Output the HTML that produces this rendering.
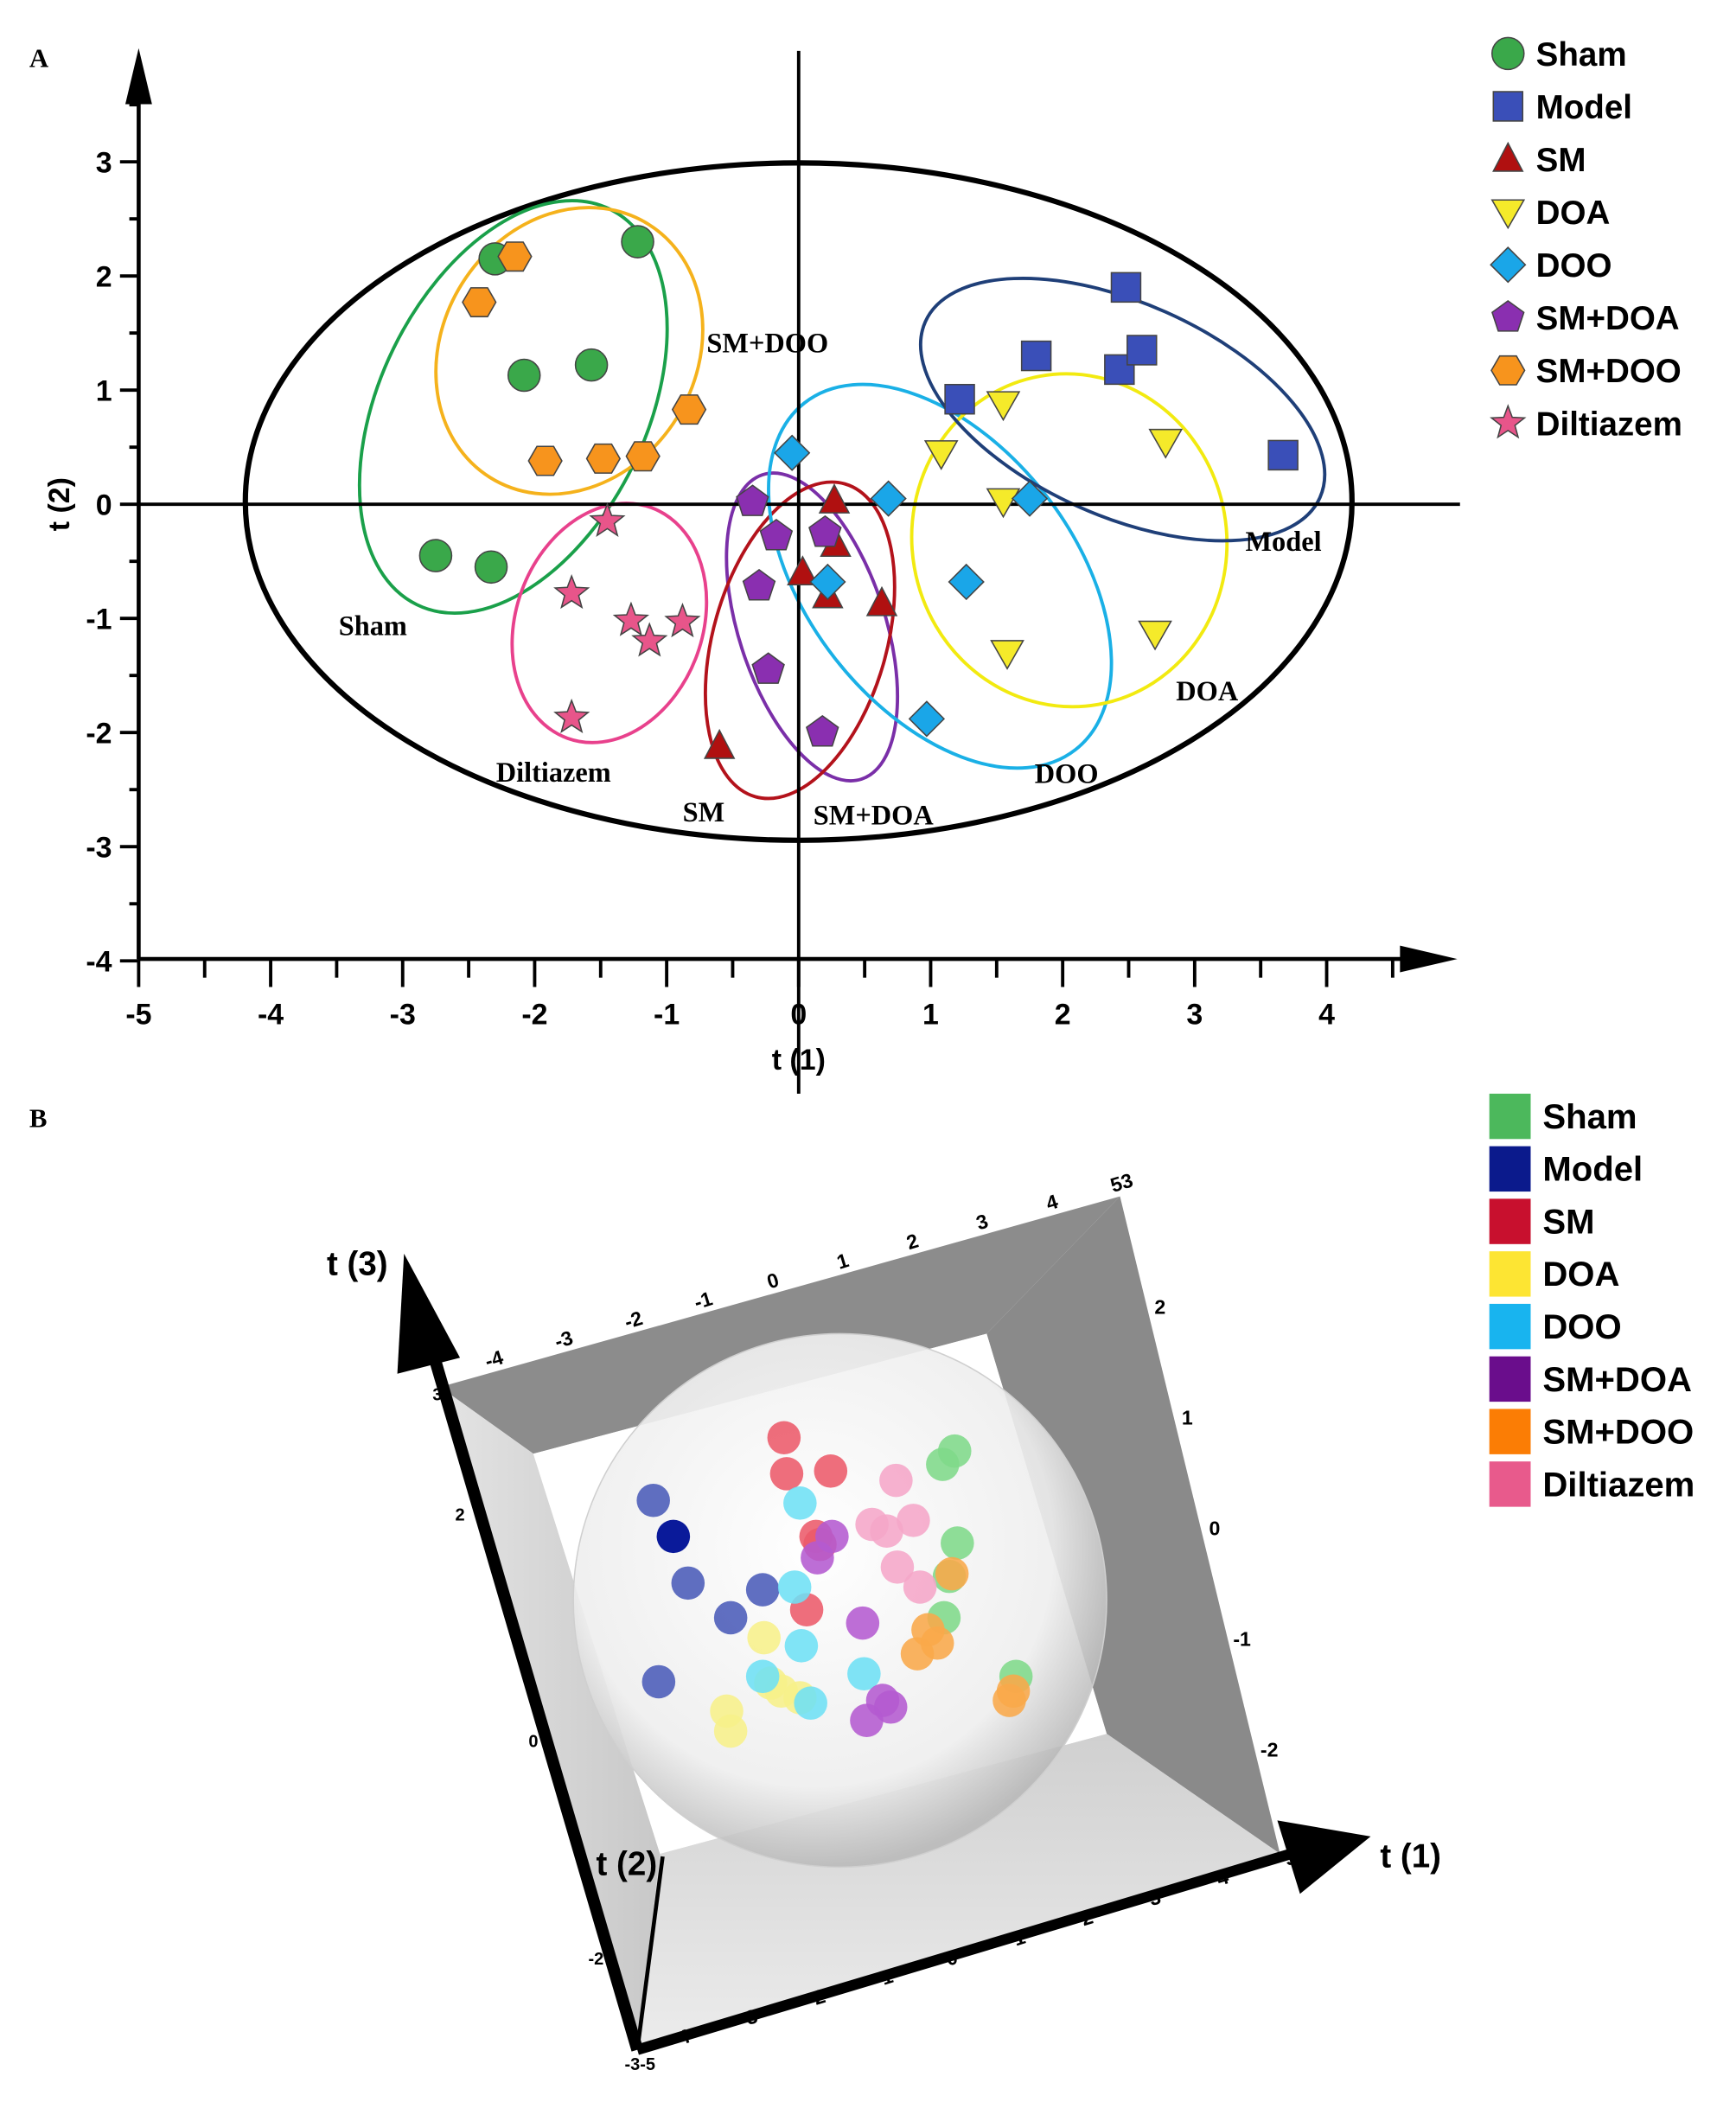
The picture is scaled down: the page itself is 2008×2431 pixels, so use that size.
<!DOCTYPE html>
<html><head><meta charset="utf-8"><style>
html,body{margin:0;padding:0;background:#fff;}
svg{display:block;}
text{font-family:"Liberation Sans",sans-serif;}
.serif{font-family:"Liberation Serif",serif;font-weight:bold;}
</style></head><body>
<svg id="chart" width="2008" height="2431" viewBox="0 0 1302 1576" xmlns="http://www.w3.org/2000/svg">
<defs>
<radialGradient id="sph" cx="0.45" cy="0.4" r="0.6">
<stop offset="0" stop-color="#ffffff" stop-opacity="0.95"/>
<stop offset="0.75" stop-color="#eeeeee" stop-opacity="0.9"/>
<stop offset="1" stop-color="#b8b8b8" stop-opacity="0.85"/>
</radialGradient>
<linearGradient id="lw" x1="0" y1="0" x2="1" y2="0"><stop offset="0" stop-color="#e4e4e4"/><stop offset="1" stop-color="#c8c8c8"/></linearGradient>
<linearGradient id="fl" x1="0" y1="0" x2="0" y2="1"><stop offset="0" stop-color="#d0d0d0"/><stop offset="1" stop-color="#ececec"/></linearGradient>
</defs>
<text class="serif" x="22" y="50" font-size="20">A</text>
<text class="serif" x="22" y="845" font-size="20">B</text>
<g id="pa"></g>
<g id="pb"></g>
</svg>
<script>
const groups = ["Sham","Model","SM","DOA","DOO","SM+DOA","SM+DOO","Diltiazem"];
const shamT1 = [-2.3,-1.22,-2.08,-1.57,-2.75,-2.33];
const shamT2 = [2.15,2.3,1.13,1.22,-0.45,-0.55];
const modelT1 = [2.48,1.8,2.43,2.6,1.22,3.67];
const modelT2 = [1.9,1.3,1.18,1.35,0.92,0.43];
const smT1 = [0.27,0.28,0.03,0.22,0.63,-0.6];
const smT2 = [0.03,-0.35,-0.6,-0.8,-0.87,-2.12];
const doaT1 = [1.55,1.08,2.78,1.55,1.58,2.7];
const doaT2 = [0.88,0.45,0.55,0.03,-1.3,-1.13];
const dooT1 = [-0.05,0.68,1.75,0.22,1.27,0.97];
const dooT2 = [0.45,0.05,0.05,-0.68,-0.68,-1.88];
const smdoaT1 = [-0.35,-0.17,0.2,-0.3,-0.23,0.18];
const smdoaT2 = [0.02,-0.28,-0.25,-0.72,-1.45,-2.0];
const smdooT1 = [-2.15,-2.42,-0.83,-1.92,-1.48,-1.18];
const smdooT2 = [2.17,1.77,0.83,0.38,0.4,0.42];
const dilT1 = [-1.45,-1.72,-1.27,-0.88,-1.13,-1.72];
const dilT2 = [-0.15,-0.78,-1.02,-1.03,-1.2,-1.87];
const xTicks = [-5,-4,-3,-2,-1,0,1,2,3,4];
const yTicks = [3,2,1,0,-1,-2,-3,-4];
// panel B projected coordinates (screen-plane units)
const bShamU=[3.85,4.3,4.4,4.1,3.9,6.6], bShamV=[5.1,5.6,2.15,0.9,-0.65,-2.85];
const bModelU=[-7,-6.25,-5.7,-4.1,-2.9,-6.8], bModelV=[3.75,2.4,0.65,-0.65,0.4,-3.05];
const bSmU=[-2.1,-2,-0.35,-0.75,-1.25,-0.9], bSmV=[6.1,4.75,4.85,2.1,-0.35,2.4];
const bDoaU=[-2.85,-2.2,-1.5,-4.25,-4.1,-2.6], bDoaV=[-1.4,-3.4,-3.65,-4.15,-4.9,-3.1];
const bDooU=[-1.5,-1.7,-1.45,-2.9,0.9,-1.1], bDooV=[3.65,0.5,-1.7,-2.85,-2.75,-3.85];
const bSmdoaU=[-0.85,0.85,1.6,1,1.9,-0.3], bSmdoaV=[1.6,-0.85,-3.75,-4.5,-4,2.4];
const bSmdooU=[4.2,2.9,3.65,3.3,6.35,6.5], bSmdooV=[1,-2,-1.6,-1.1,-3.75,-3.4];
const bDilU=[2.1,1.2,2.75,1.75,2.15,3], bDilV=[4.5,2.85,3,2.6,1.25,0.5];

const NS="http://www.w3.org/2000/svg";
function mk(tag,attrs,parent){const e=document.createElementNS(NS,tag);for(const k in attrs)e.setAttribute(k,attrs[k]);parent.appendChild(e);return e;}
const pa=document.getElementById('pa'), pb=document.getElementById('pb');
const X=v=>599+v*99, Y=v=>378-v*85.6;

const ells=[["#000",599,376,415,254,0,4,"hotelling-ellipse"],["#1aa04a",385,305,165,100,-64,2.5,"sham-ellipse"],["#f5b21c",427,263,112,95,-58,2.5,"sm-doo-ellipse"],
["#e8418c",457,467,92,70,-70,2.5,"diltiazem-ellipse"],["#7a2fa8",609,470,120,55,72,2.5,"sm-doa-ellipse"],["#b3121b",600,480,122,65,-74,2.5,"sm-ellipse"],
["#1ab0e6",705,432,165,100,52,2.5,"doo-ellipse"],["#f2ea10",802,405,125,118,80,2.5,"doa-ellipse"],["#1f3f78",842,307,162,80,24,2.5,"model-ellipse"]];
ells.forEach(e=>{const el=mk('ellipse',{cx:e[1],cy:e[2],rx:e[3],ry:e[4],transform:`rotate(${e[5]} ${e[1]} ${e[2]})`,fill:'none',stroke:e[0],'stroke-width':e[6]},pa);

});
const ax=mk('g',{},pa);


mk('line',{x1:104,y1:719,x2:1060,y2:719,stroke:'#000','stroke-width':3},ax);
mk('polygon',{points:'1050,709 1093,719 1050,729',fill:'#000'},ax);
mk('line',{x1:104,y1:719,x2:104,y2:70,stroke:'#000','stroke-width':3},ax);
mk('polygon',{points:'94,78 104,36 114,78',fill:'#000'},ax);
mk('line',{x1:599,y1:38,x2:599,y2:820,stroke:'#000','stroke-width':2.5},ax);
mk('line',{x1:104,y1:378,x2:1095,y2:378,stroke:'#000','stroke-width':2.5},ax);
for(let v=-5;v<=4.51;v+=0.5){const maj=Math.abs(v-Math.round(v))<0.01;mk('line',{x1:X(v),y1:719,x2:X(v),y2:maj?740:733,stroke:'#000','stroke-width':2.5},ax);}
for(let v=-4;v<=3.51;v+=0.5){const maj=Math.abs(v-Math.round(v))<0.01;mk('line',{x1:104,y1:Y(v),x2:maj?90:97,y2:Y(v),stroke:'#000','stroke-width':2.5},ax);}
xTicks.forEach(t=>{const e=mk('text',{x:X(t),y:768,'font-size':22,'font-weight':'bold','text-anchor':'middle'},ax);e.textContent=t;

});
yTicks.forEach(t=>{const e=mk('text',{x:84,y:Y(t)+8,'font-size':22,'font-weight':'bold','text-anchor':'end'},ax);e.textContent=t;

});
let tx=mk('text',{x:599,y:802,'font-size':22,'font-weight':'bold','text-anchor':'middle'},ax);tx.textContent='t (1)';


let ty=mk('text',{x:52,y:378,'font-size':22,'font-weight':'bold','text-anchor':'middle',transform:'rotate(-90 52 378)'},ax);ty.textContent='t (2)';


[["SM+DOO",530,264],["Model",934,413],["Sham",254,476],["DOA",882,525],["Diltiazem",372,586],["DOO",776,587],["SM",512,616],["SM+DOA",610,618]].forEach(l=>{
const e=mk('text',{x:l[1],y:l[2],'font-size':21,class:'serif'},pa);e.textContent=l[0];

});
const cols=["#3aa84a","#3a4fb8","#b01010","#f5ea2a","#1aa6e8","#8a2fb0","#f7941d","#e8558a"];
function shape(k,x,y,par){const r=12;let a={fill:cols[k],stroke:'#444','stroke-width':1};let el;
if(k==0)el=mk('circle',Object.assign({cx:x,cy:y,r:r},a),par);
else if(k==1)el=mk('rect',Object.assign({x:x-11,y:y-11,width:22,height:22},a),par);
else if(k==2)el=mk('polygon',Object.assign({points:`${x},${y-12} ${x+11},${y+9} ${x-11},${y+9}`},a),par);
else if(k==3)el=mk('polygon',Object.assign({points:`${x-12},${y-9} ${x+12},${y-9} ${x},${y+12}`},a),par);
else if(k==4)el=mk('polygon',Object.assign({points:`${x},${y-13} ${x+13},${y} ${x},${y+13} ${x-13},${y}`},a),par);
else{let n=k==5?5:(k==6?6:10),pts=[];for(let i=0;i<n;i++){const ang=-Math.PI/2+i*2*Math.PI/n+(k==6?Math.PI/6:0);const rr=k==7?(i%2?5.5:13):12.5;pts.push((x+rr*Math.cos(ang)).toFixed(1)+','+(y+rr*Math.sin(ang)).toFixed(1));}
el=mk('polygon',Object.assign({points:pts.join(' ')},a),par);}
return el;}
const A1=[shamT1,modelT1,smT1,doaT1,dooT1,smdoaT1,smdooT1,dilT1], A2=[shamT2,modelT2,smT2,doaT2,dooT2,smdoaT2,smdooT2,dilT2];
A1.forEach((arr,k)=>arr.forEach((v,i)=>{const el=shape(k,X(v),Y(A2[k][i]),pa);

}));
groups.forEach((g,k)=>{const y=40+k*39.6;const el=shape(k,1131,y,pa);


const t=mk('text',{x:1152,y:y+9,'font-size':25,'font-weight':'bold'},pa);t.textContent=g;

});

// ===== Panel B =====
const P=(u,v)=>[630+u*20,1200-v*20];
const box=mk('g',{},pb);


const O=[[330,1040],[840,897],[960,1390],[478,1537]], I=[[400,1090],[740,1000],[830,1300],[495,1390]];
const q=(a,b,c,d)=>[a,b,c,d].map(p=>p.join(',')).join(' ');
mk('polygon',{points:q(O[0],O[1],I[1],I[0]),fill:'#8c8c8c'},box);
mk('polygon',{points:q(O[1],O[2],I[2],I[1]),fill:'#8a8a8a'},box);
mk('polygon',{points:q(O[3],O[2],I[2],I[3]),fill:'url(#fl)'},box);
mk('polygon',{points:q(O[0],I[0],I[3],O[3]),fill:'url(#lw)'},box);
mk('polygon',{points:q(I[0],I[1],I[2],I[3]),fill:'#ffffff'},box);
const sp=mk('circle',{cx:630,cy:1200,r:200,fill:'url(#sph)',stroke:'#cfcfcf','stroke-width':1},pb);


const bcols=["#7fd98a","#4a5bb8","#ec5a6a","#f7f08a","#6ee0f5","#b45ad0","#f9a84a","#f5a6c8"];
const BU=[bShamU,bModelU,bSmU,bDoaU,bDooU,bSmdoaU,bSmdooU,bDilU], BV=[bShamV,bModelV,bSmV,bDoaV,bDooV,bSmdoaV,bSmdooV,bDilV];
BU.forEach((arr,k)=>arr.forEach((u,i)=>{const p=P(u,BV[k][i]);
const c=mk('circle',{cx:p[0],cy:p[1],r:12.5,fill:bcols[k],opacity:k==1&&i==1?1:0.88},pb);
if(k==1&&i==1)c.setAttribute('fill','#0a1a9a');

}));
const axb=mk('g',{},pb);


mk('line',{x1:478,y1:1537,x2:322,y2:1005,stroke:'#000','stroke-width':9},axb);
mk('polygon',{points:'298,1030 303,940 345,1018',fill:'#000'},axb);
mk('line',{x1:478,y1:1537,x2:975,y2:1388,stroke:'#000','stroke-width':8},axb);
mk('polygon',{points:'958,1365 1028,1377 975,1420',fill:'#000'},axb);
mk('line',{x1:478,y1:1537,x2:497,y2:1392,stroke:'#000','stroke-width':3},axb);
const rot=(s,x,y,a,fs,name)=>{const t=mk('text',{x:x,y:y,'font-size':fs,'font-weight':'bold',transform:`rotate(${a} ${x} ${y})`,'text-anchor':'middle'},axb);t.textContent=s;

};
const topT=["-4","-3","-2","-1","0","1","2","3","4","53"];
topT.forEach((s,i)=>rot(s,372+i*52.3,1024-i*14.7,-17,15,'t1-top-tick'));
const botT=["-4","-3","-2","-1","0","1","2","3","4","5"];
botT.forEach((s,i)=>rot(s,512+i*50.8,1533-i*15,-17,15,'t1-bottom-tick'));
const rightT=["2","1","0","-1","-2"];
rightT.forEach((s,i)=>rot(s,870+i*20.5,985+i*83,0,15,'t3-tick'));
[["3",328,1050],["2",345,1140],["0",400,1310],["-2",447,1473],["-3-5",480,1552]].forEach(l=>rot(l[0],l[1],l[2],0,13,'t2-tick'));
const at=(s,x,y,name)=>{const t=mk('text',{x:x,y:y,'font-size':25,'font-weight':'bold','text-anchor':'middle'},axb);t.textContent=s;

};
at('t (3)',268,956,'t3-axis-title');at('t (2)',470,1406,'t2-axis-title');at('t (1)',1058,1400,'t1-axis-title');
const lcols=["#4cb85c","#0b1a8c","#c8102e","#fde533","#18b4ef","#6a0d8c","#fb7d05","#e85a8c"];
groups.forEach((g,k)=>{const y=837+k*39.4;const r=mk('rect',{x:1117,y:y-17,width:31,height:34,fill:lcols[k]},pb);


const t=mk('text',{x:1157,y:y+9,'font-size':26,'font-weight':'bold'},pb);t.textContent=g;

});
</script>
</body></html>
